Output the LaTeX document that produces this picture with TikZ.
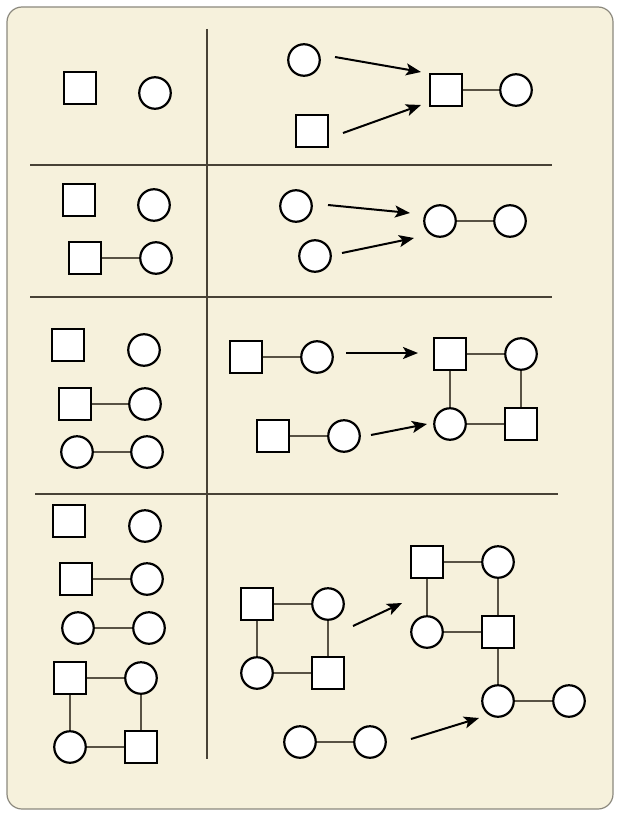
\documentclass[tikz,border=0pt]{standalone}
\usetikzlibrary{shapes,arrows.meta}
\definecolor{cream}{RGB}{246,241,220}
\definecolor{frame}{RGB}{140,137,126}
\definecolor{rule}{RGB}{72,66,54}
\definecolor{link}{RGB}{88,82,68}
\tikzset{%
  sq/.style      = {draw, rectangle, line width=2.2pt, fill=white,
    minimum size=31.5pt, inner sep=0pt}, % Square
  ci/.style      = {draw, circle, line width=2.2pt, fill=white,
    minimum size=31.5pt, inner sep=0pt}, % Circle
  tie/.style     = {draw=link, line width=1.3pt}, % Joining line
  divider/.style = {draw=rule, line width=1.5pt} % Table rules
}

\begin{document}
\begin{tikzpicture}[x=1pt, y=-1pt, line width=2pt,
    >={Stealth[length=15pt, width=12pt, inset=3.5pt]}]
\useasboundingbox (0,0) rectangle (620,816);
	% Background panel and table rules
	\draw [frame, fill=cream, rounded corners=15pt, line width=1.2pt]
	  (7,7) rectangle (613,809);
	\draw [divider] (207,29) -- (207,759);
	\draw [divider] (30,165) -- (552,165);
	\draw [divider] (30,297) -- (552,297);
	\draw [divider] (35,494) -- (558,494);
	% First row:
\draw
	node at (80,88)   [sq] (sq1) {}
	node at (155,93)  [ci] (ci1) {}
	node at (304,60)  [ci] (ci2) {}
	node at (312,131) [sq] (sq2) {}
	node at (446,90)  [sq] (sq3) {}
	node at (516,90)  [ci] (ci3) {}
;
	\coordinate (ar1s) at (335,57);
	\coordinate (ar1e) at (421,72);
	\coordinate (ar2s) at (343,133);
	\coordinate (ar2e) at (421,105);
	\draw[tie] (sq3) -- (ci3);
	\draw[->] (ar1s) -- (ar1e);
	\draw[->] (ar2s) -- (ar2e);
	% Second row:
\draw
	node at (79,200)  [sq] (sq4) {}
	node at (154,205) [ci] (ci4) {}
	node at (85,258)  [sq] (sq5) {}
	node at (156,258) [ci] (ci5) {}
	node at (296,206) [ci] (ci6) {}
	node at (315,256) [ci] (ci7) {}
	node at (440,221) [ci] (ci8) {}
	node at (510,221) [ci] (ci9) {}
;
	\coordinate (ar3s) at (328,205);
	\coordinate (ar3e) at (410,213);
	\coordinate (ar4s) at (342,253);
	\coordinate (ar4e) at (414,238);
	\draw[tie] (sq5) -- (ci5);
	\draw[tie] (ci8) -- (ci9);
	\draw[->] (ar3s) -- (ar3e);
	\draw[->] (ar4s) -- (ar4e);
	% Third row:
\draw
	node at (68,345)  [sq] (sq6) {}
	node at (144,350) [ci] (ci10) {}
	node at (75,404)  [sq] (sq7) {}
	node at (145,404) [ci] (ci11) {}
	node at (77,452)  [ci] (ci12) {}
	node at (147,452) [ci] (ci13) {}
	node at (246,357) [sq] (sq8) {}
	node at (317,357) [ci] (ci14) {}
	node at (450,354) [sq] (sq9) {}
	node at (521,354) [ci] (ci15) {}
	node at (450,424) [ci] (ci16) {}
	node at (521,424) [sq] (sq10) {}
	node at (273,436) [sq] (sq11) {}
	node at (344,436) [ci] (ci17) {}
;
	\coordinate (ar5s) at (346,353);
	\coordinate (ar5e) at (418,353);
	\coordinate (ar6s) at (371,435);
	\coordinate (ar6e) at (427,424);
	\draw[tie] (sq7) -- (ci11);
	\draw[tie] (ci12) -- (ci13);
	\draw[tie] (sq8) -- (ci14);
	\draw[tie] (sq9) -- (ci15);
	\draw[tie] (ci16) -- (sq10);
	\draw[tie] (sq9) -- (ci16);
	\draw[tie] (ci15) -- (sq10);
	\draw[tie] (sq11) -- (ci17);
	\draw[->] (ar5s) -- (ar5e);
	\draw[->] (ar6s) -- (ar6e);
	% Fourth row:
\draw
	node at (69,521)  [sq] (sq12) {}
	node at (145,526) [ci] (ci18) {}
	node at (76,579)  [sq] (sq13) {}
	node at (147,579) [ci] (ci19) {}
	node at (78,628)  [ci] (ci20) {}
	node at (149,628) [ci] (ci21) {}
	node at (70,678)  [sq] (sq14) {}
	node at (141,678) [ci] (ci22) {}
	node at (70,747)  [ci] (ci23) {}
	node at (141,747) [sq] (sq15) {}
	node at (257,604) [sq] (sq16) {}
	node at (328,604) [ci] (ci24) {}
	node at (257,673) [ci] (ci25) {}
	node at (328,673) [sq] (sq17) {}
	node at (427,562) [sq] (sq18) {}
	node at (498,562) [ci] (ci26) {}
	node at (427,632) [ci] (ci27) {}
	node at (498,632) [sq] (sq19) {}
	node at (498,701) [ci] (ci28) {}
	node at (569,701) [ci] (ci29) {}
	node at (300,742) [ci] (ci30) {}
	node at (370,742) [ci] (ci31) {}
;
	\coordinate (ar7s) at (353,626);
	\coordinate (ar7e) at (402,603);
	\coordinate (ar8s) at (411,739);
	\coordinate (ar8e) at (479,718);
	% Joining the blocks:
	\draw[tie] (sq13) -- (ci19);
	\draw[tie] (ci20) -- (ci21);
	\draw[tie] (sq14) -- (ci22);
	\draw[tie] (ci23) -- (sq15);
	\draw[tie] (sq14) -- (ci23);
	\draw[tie] (ci22) -- (sq15);
	\draw[tie] (sq16) -- (ci24);
	\draw[tie] (ci25) -- (sq17);
	\draw[tie] (sq16) -- (ci25);
	\draw[tie] (ci24) -- (sq17);
	\draw[tie] (sq18) -- (ci26);
	\draw[tie] (ci27) -- (sq19);
	\draw[tie] (sq18) -- (ci27);
	\draw[tie] (ci26) -- (sq19);
	\draw[tie] (sq19) -- (ci28);
	\draw[tie] (ci28) -- (ci29);
	\draw[tie] (ci30) -- (ci31);
	\draw[->] (ar7s) -- (ar7e);
	\draw[->] (ar8s) -- (ar8e);
\end{tikzpicture}
\end{document}
